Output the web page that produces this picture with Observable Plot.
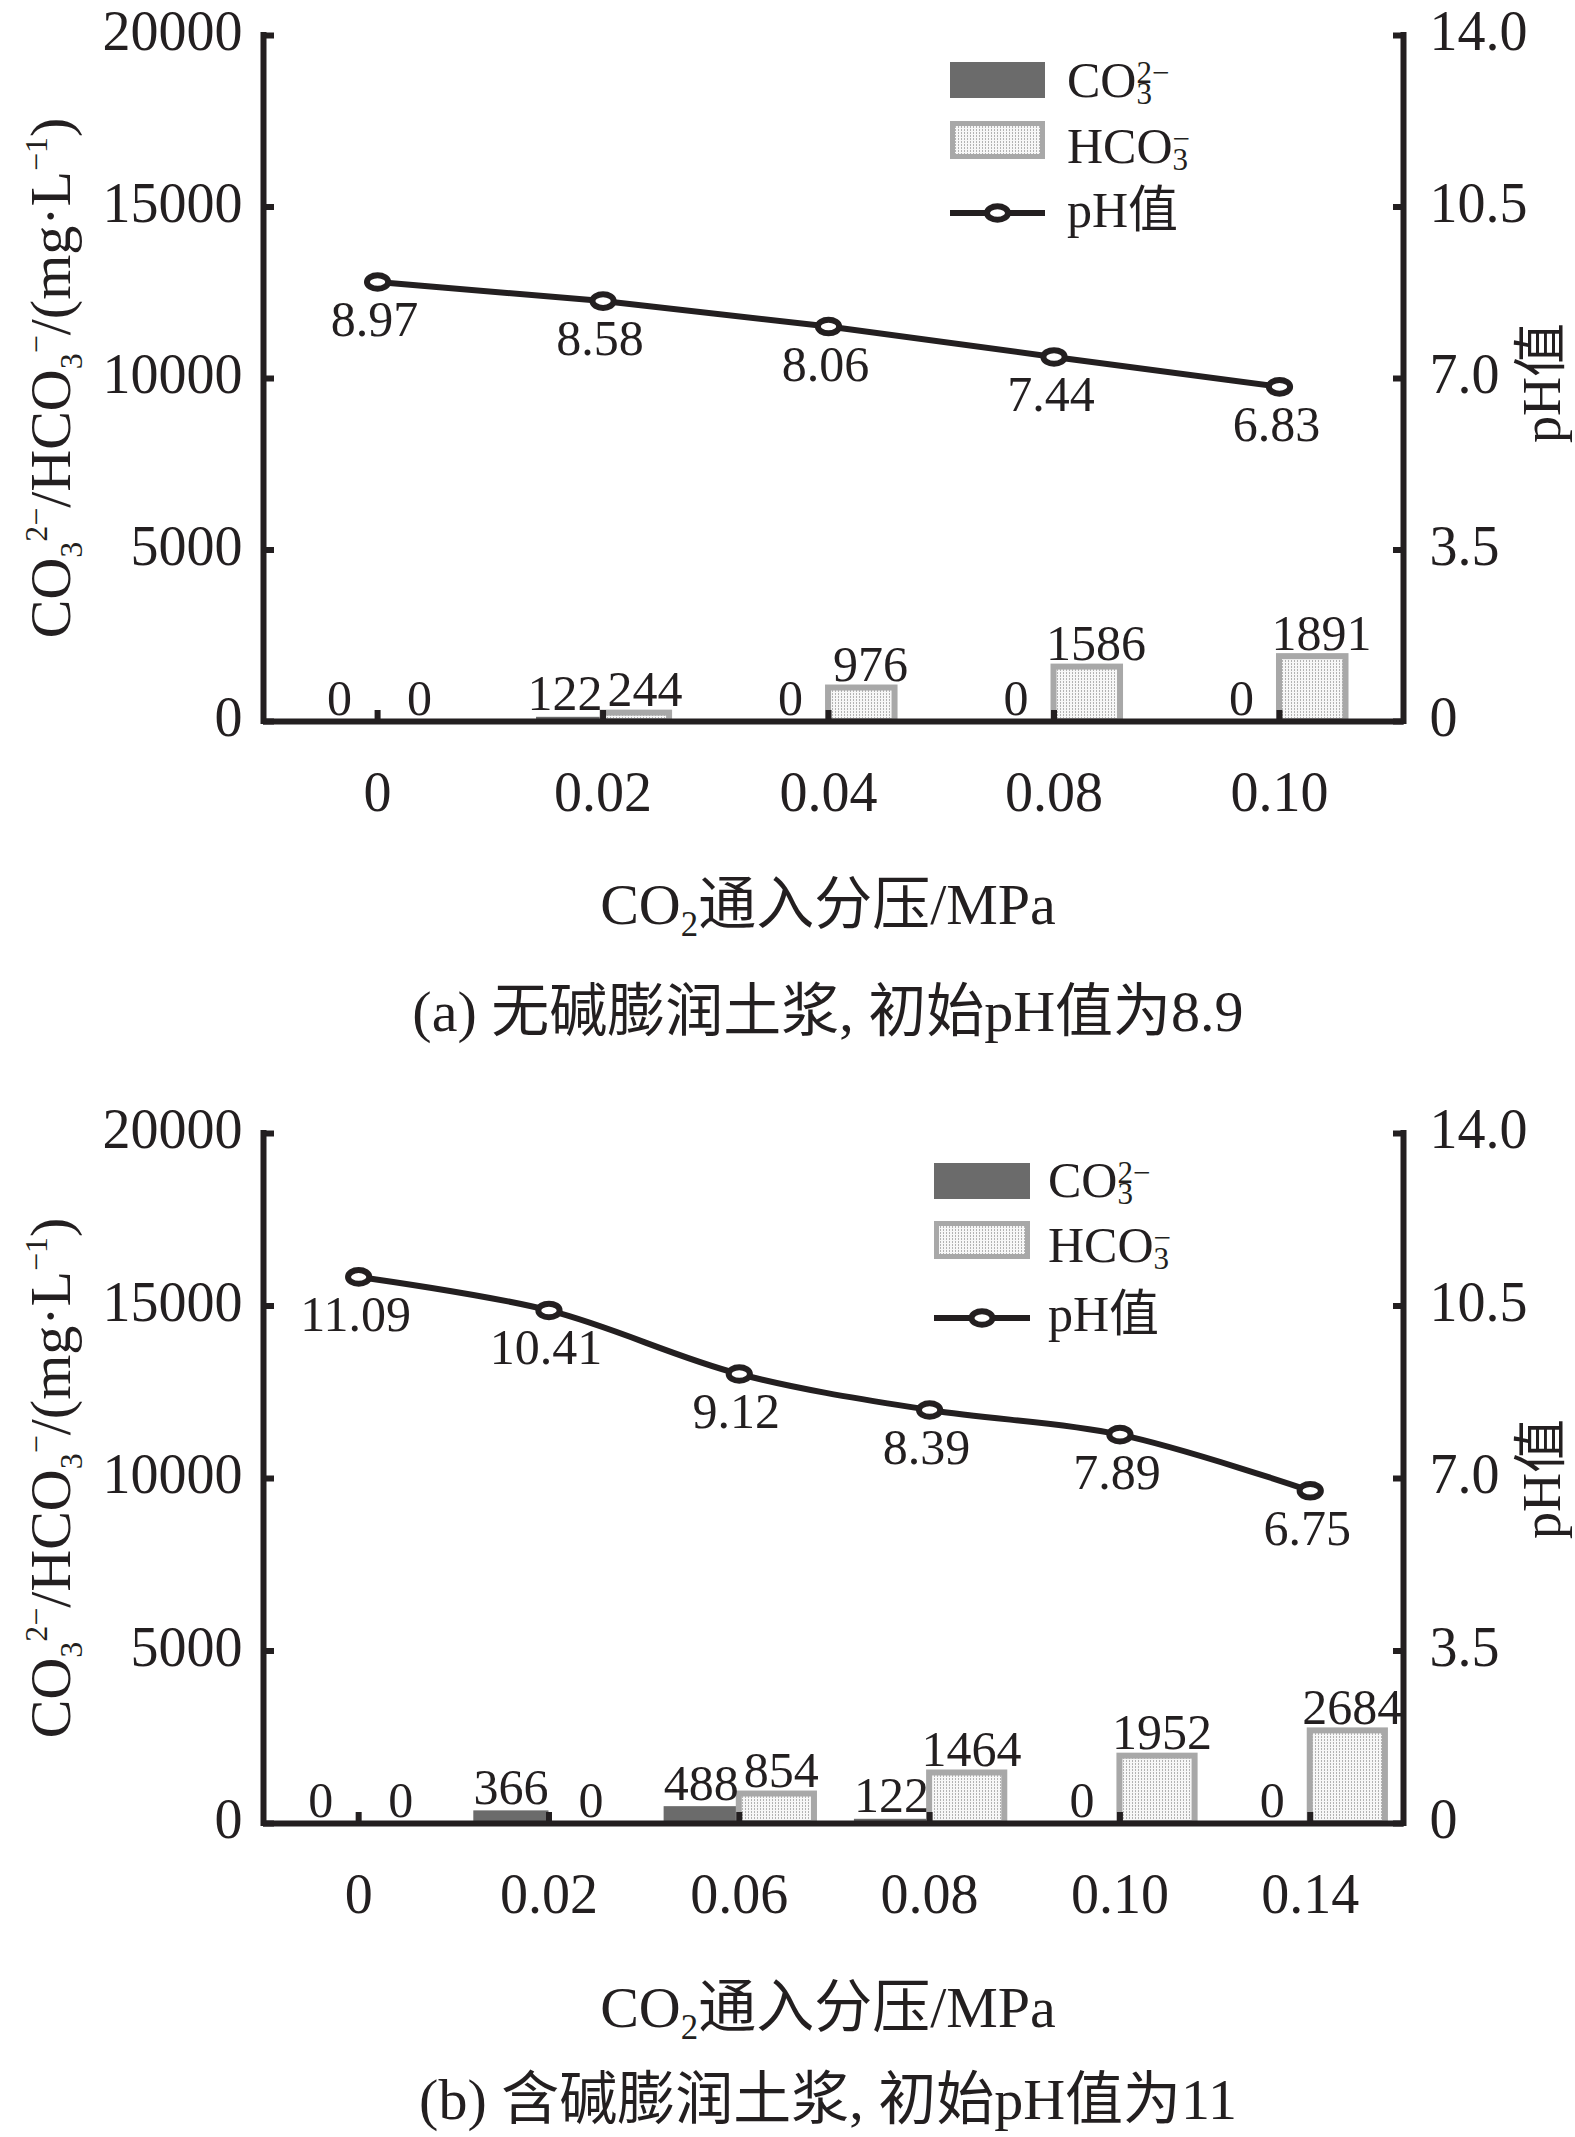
<!DOCTYPE html>
<html><head><meta charset="utf-8">
<script src="https://cdn.jsdelivr.net/npm/d3@7"></script>
<script src="https://cdn.jsdelivr.net/npm/@observablehq/plot@0.6"></script>
<style>
html,body{margin:0;padding:0;background:#fff;}
#wrap{width:1575px;}
#wrap svg{display:block;}
</style></head><body><div id="wrap"></div>
<script>
// ---------- data ----------
const categoriesA = ["0", "0.02", "0.04", "0.08", "0.10"];
const co3A = [0, 122, 0, 0, 0];
const hco3A = [0, 244, 976, 1586, 1891];
const phA = [8.97, 8.58, 8.06, 7.44, 6.83];

const categoriesB = ["0", "0.02", "0.06", "0.08", "0.10", "0.14"];
const co3B = [0, 366, 488, 122, 0, 0];
const hco3B = [0, 0, 854, 1464, 1952, 2684];
const phB = [11.09, 10.41, 9.12, 8.39, 7.89, 6.75];

const leftTicks = [0, 5000, 10000, 15000, 20000];
const Y_MAX = 20000, PH_MAX = 14;

// ---------- styles ----------
const INK = "#231f20";
const SERIF = "'Liberation Serif','Times New Roman','Noto Sans CJK SC',serif";
const CO3_FILL = "#6b6b6b";
const HCO3_STROKE = "#a8a8a8";
const AXIS_W = 6;

const ellipse = {
  draw(ctx, size) {
    const r = Math.sqrt(size / Math.PI), rx = 1.25 * r, ry = 0.8 * r, k = 0.5523;
    ctx.moveTo(rx, 0);
    ctx.bezierCurveTo(rx, ry * k, rx * k, ry, 0, ry);
    ctx.bezierCurveTo(-rx * k, ry, -rx, ry * k, -rx, 0);
    ctx.bezierCurveTo(-rx, -ry * k, -rx * k, -ry, 0, -ry);
    ctx.bezierCurveTo(rx * k, -ry, rx, -ry * k, rx, 0);
    ctx.closePath();
  }
};

function rich(parent, parts, fs, attrs) {
  const t = parent.append("text").attr("font-family", SERIF).attr("font-size", fs).attr("fill", INK)
    .attr("text-anchor", "start");
  for (const [k, v] of Object.entries(attrs)) t.attr(k, v);
  let cur = 0;
  for (const p of parts) {
    const shift = p.shift || 0;
    const sp = t.append("tspan").text(p.t);
    if (shift !== cur) sp.attr("dy", ((shift - cur) * fs).toFixed(1));
    if (p.size) sp.attr("font-size", (p.size * fs).toFixed(1));
    if (p.dx) sp.attr("dx", (p.dx * fs).toFixed(1));
    cur = shift;
  }
  return t;
}

function panel(cfg) {
  const rows = cfg.categories.map((c, i) => ({i, cat: c, co3: cfg.co3[i], hco3: cfg.hco3[i], ph: cfg.ph[i]}));
  const idx = rows.map(d => d.i);
  const phY = v => v * Y_MAX / PH_MAX;
  const w = cfg.barWidth;
  const svg = Plot.plot({
    width: 1575, height: cfg.height,
    marginTop: cfg.marginTop, marginBottom: cfg.marginBottom, marginLeft: 263, marginRight: 172,
    style: {fontFamily: SERIF, color: INK, background: "white"},
    x: {domain: cfg.xDomain, label: null},
    y: {domain: [0, Y_MAX], label: null},
    marks: [
      Plot.rect(rows.filter(d => d.co3 > 0), {x1: d => d.i - w, x2: d => d.i, y1: 0, y2: "co3", fill: CO3_FILL}),
      Plot.rect(rows.filter(d => d.hco3 > 0), {x1: d => d.i, x2: d => d.i + w, y1: 0, y2: "hco3",
        fill: `url(#${cfg.id}-dots)`, stroke: HCO3_STROKE, strokeWidth: 6}),
      Plot.axisY(leftTicks, {anchor: "left", tickSize: -11, fill: "none", stroke: INK, strokeWidth: AXIS_W}),
      Plot.axisY(leftTicks, {anchor: "right", tickSize: -11, fill: "none", stroke: INK, strokeWidth: AXIS_W}),
      Plot.axisX(idx, {anchor: "bottom", tickSize: -11, fill: "none", stroke: INK, strokeWidth: AXIS_W}),
      Plot.ruleY([0], {stroke: INK, strokeWidth: AXIS_W}),
      Plot.ruleX(cfg.xDomain, {stroke: INK, strokeWidth: AXIS_W, strokeLinecap: "square"}),
      Plot.axisY(leftTicks, {anchor: "left", tickSize: 0, tickPadding: 21, dy: -3,
        tickFormat: d => String(d), fontSize: 56, fill: INK}),
      Plot.axisY(leftTicks, {anchor: "right", tickSize: 0, tickPadding: 26, dy: -3,
        tickFormat: d => d === 0 ? "0" : (d * PH_MAX / Y_MAX).toFixed(1), fontSize: 56, fill: INK}),
      Plot.axisX(idx, {anchor: "bottom", tickSize: 0, tickPadding: 50,
        tickFormat: i => cfg.categories[i], fontSize: 56, fill: INK}),
      Plot.line(rows, {x: "i", y: d => phY(d.ph), curve: cfg.curve, stroke: INK, strokeWidth: 6}),
      Plot.dot(rows, {x: "i", y: d => phY(d.ph), r: 8.5, symbol: ellipse, fill: "white", stroke: INK, strokeWidth: 6}),
      Plot.text(rows, {x: "i", y: d => phY(d.ph), text: d => d.ph.toFixed(2), lineAnchor: "bottom",
        dy: 54, dx: -3, fontSize: 50, fill: INK}),
      Plot.text(rows, {x: "i", y: "co3", text: d => String(d.co3), lineAnchor: "bottom",
        dy: -7, dx: -38, fontSize: 50, fill: INK}),
      Plot.text(rows, {x: "i", y: "hco3", text: d => String(d.hco3), lineAnchor: "bottom",
        dy: -7, dx: 42, fontSize: 50, fill: INK})
    ]
  });

  const s = d3.select(svg);
  const defs = s.insert("defs", ":first-child");
  const pat = defs.append("pattern").attr("id", cfg.id + "-dots").attr("patternUnits", "userSpaceOnUse")
    .attr("width", 3).attr("height", 3);
  pat.append("rect").attr("width", 3).attr("height", 3).attr("fill", "#f7f7f7");
  pat.append("rect").attr("x", 1).attr("width", 1).attr("height", 2).attr("fill", "#b3b3b3");

  // legend
  const L = cfg.legend;
  const g = s.append("g");
  g.append("rect").attr("x", L.x0).attr("y", L.co3[0]).attr("width", L.x1 - L.x0).attr("height", L.co3[1] - L.co3[0])
    .attr("fill", CO3_FILL);
  g.append("rect").attr("x", L.x0 + 2.5).attr("y", L.hco3[0] + 2.5).attr("width", L.x1 - L.x0 - 5)
    .attr("height", L.hco3[1] - L.hco3[0] - 5).attr("fill", `url(#${cfg.id}-dots)`)
    .attr("stroke", HCO3_STROKE).attr("stroke-width", 5);
  g.append("line").attr("x1", L.x0).attr("x2", L.x1).attr("y1", L.line).attr("y2", L.line)
    .attr("stroke", INK).attr("stroke-width", 6);
  g.append("ellipse").attr("cx", (L.x0 + L.x1) / 2).attr("cy", L.line).attr("rx", 10.5).attr("ry", 6.8)
    .attr("fill", "white").attr("stroke", INK).attr("stroke-width", 6);
  rich(g, [{t: "CO"}, {t: "3", shift: 0.14, size: 0.62}, {t: "2−", shift: -0.28, size: 0.62, dx: -0.31}], 50,
    {x: L.tx, y: L.tb[0]});
  rich(g, [{t: "HCO"}, {t: "3", shift: 0.14, size: 0.62}, {t: "−", shift: -0.28, size: 0.62, dx: -0.31}], 50,
    {x: L.tx, y: L.tb[1]});
  rich(g, [{t: "pH值"}], 50, {x: L.tx, y: L.tb[2]});

  // axis titles
  rich(s, [{t: "CO"}, {t: "3", shift: 0.2, size: 0.55}, {t: "2−", shift: -0.4, size: 0.55},
           {t: "/HCO"}, {t: "3", shift: 0.2, size: 0.55}, {t: "−", shift: -0.4, size: 0.55},
           {t: "/(mg·L"}, {t: "−1", shift: -0.4, size: 0.55}, {t: ")"}], 58,
    {"text-anchor": "middle", transform: `translate(70,${cfg.yLabelY}) rotate(-90)`});
  rich(s, [{t: "pH值"}], 54, {"text-anchor": "middle", transform: `translate(1560,${cfg.rightLabelY}) rotate(-90)`});
  rich(s, [{t: "CO"}, {t: "2", shift: 0.2, size: 0.6}, {t: "通入分压/MPa"}], 58,
    {"text-anchor": "middle", x: 828, y: cfg.xTitleY});
  rich(s, [{t: cfg.caption}], 58, {"text-anchor": "middle", x: 828, y: cfg.captionY});

  document.getElementById("wrap").appendChild(svg);
}

panel({
  id: "pa", height: 1070, marginTop: 35, marginBottom: 349,
  categories: categoriesA, co3: co3A, hco3: hco3A, ph: phA,
  xDomain: [-0.506, 4.55], barWidth: 0.295, curve: "linear",
  legend: {x0: 950, x1: 1045, co3: [62, 98], hco3: [121, 159], line: 213, tx: 1067, tb: [97, 163, 227]},
  yLabelY: 378, rightLabelY: 383, xTitleY: 924, captionY: 1031,
  caption: "(a) 无碱膨润土浆, 初始pH值为8.9"
});
panel({
  id: "pb", height: 1067, marginTop: 63, marginBottom: 314,
  categories: categoriesB, co3: co3B, hco3: hco3B, ph: phB,
  xDomain: [-0.5, 5.49], barWidth: 0.395, curve: "catmull-rom",
  legend: {x0: 934, x1: 1030, co3: [93, 129], hco3: [151, 189], line: 248, tx: 1048, tb: [127, 192, 261]},
  yLabelY: 408, rightLabelY: 409, xTitleY: 957, captionY: 1049,
  caption: "(b) 含碱膨润土浆, 初始pH值为11"
});
</script></body></html>
